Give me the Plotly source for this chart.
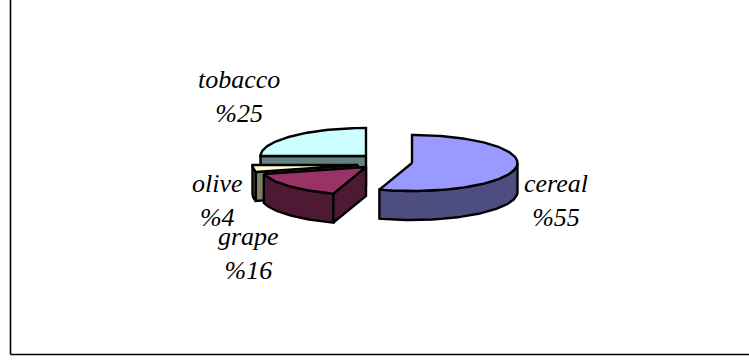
import numpy as np
import plotly.graph_objects as go

# Land use shares, drawn clockwise from twelve o'clock
crops = ["cereal", "grape", "olive", "tobacco"]
shares = [55, 16, 4, 25]

top_colors = ["#9999FF", "#993366", "#FFFFCC", "#CCFFFF"]
side_colors = ["#4D4D80", "#4D1933", "#808066", "#668080"]

# Pie projection, in pixels of the 749x360 canvas
rx, ry, depth = 105.5, 28, 29
centers_x = [412, 366, 358, 366]
centers_y = [163, 167, 165, 156]
label_x = [556, 248, 217, 239]
label_y = [200, 253, 200, 96]


def rim(cx, cy, a0, a1, drop=0.0):
    """Points on the elliptical rim between two clockwise angles (radians from north)."""
    t = np.linspace(a0, a1, max(2, int(abs(a1 - a0) * 40)))
    return cx + rx * np.sin(t), cy - ry * np.cos(t) + drop


def poly(fig, xs, ys, color):
    fig.add_trace(go.Scatter(
        x=np.append(xs, xs[0]), y=np.append(ys, ys[0]),
        mode="lines", fill="toself", fillcolor=color,
        line=dict(color="black", width=2.4),
        hoverinfo="skip", showlegend=False,
    ))


fig = go.Figure()

edges = np.cumsum([0] + shares) / sum(shares) * 2 * np.pi
slices = list(zip(centers_x, centers_y, edges[:-1], edges[1:], top_colors, side_colors))

# Paint back slices first so the nearer walls overlap them
for cx, cy, a0, a1, top, side in reversed(slices):
    # Outer wall: only the front half of the rim can be seen
    f0, f1 = max(a0, np.pi / 2), min(a1, 3 * np.pi / 2)
    if f1 > f0:
        x_up, y_up = rim(cx, cy, f0, f1)
        x_dn, y_dn = rim(cx, cy, f0, f1, depth)
        poly(fig, np.concatenate([x_up, x_dn[::-1]]), np.concatenate([y_up, y_dn[::-1]]), side)

    # The leading cut face looks towards the viewer on the left half of the pie
    if np.pi <= a0 < 2 * np.pi:
        ox, oy = rim(cx, cy, a0, a0)
        poly(fig, np.array([cx, ox[0], ox[0], cx]),
             np.array([cy, oy[0], oy[0] + depth, cy + depth]), side)

    # Top surface
    xt, yt = rim(cx, cy, a0, a1)
    poly(fig, np.concatenate([[cx], xt]), np.concatenate([[cy], yt]), top)

for name, val, lx, ly in zip(crops, shares, label_x, label_y):
    fig.add_annotation(
        x=lx, y=ly, text=f"{name}<br>%{val}", showarrow=False,
        xanchor="center", yanchor="middle", align="center",
        font=dict(family="Liberation Serif", size=26, color="black", style="italic"),
    )

# Frame around the chart area
fig.add_shape(type="line", x0=10.5, x1=10.5, y0=0, y1=354.5, line=dict(color="black", width=1.6))
fig.add_shape(type="line", x0=10.5, x1=749, y0=354.5, y1=354.5, line=dict(color="black", width=1.6))

fig.update_layout(
    width=749, height=360, margin=dict(l=0, r=0, t=0, b=0),
    paper_bgcolor="white", plot_bgcolor="white",
    xaxis=dict(range=[0, 749], visible=False, fixedrange=True),
    yaxis=dict(range=[360, 0], visible=False, fixedrange=True),
)

fig.write_html("out.html")
